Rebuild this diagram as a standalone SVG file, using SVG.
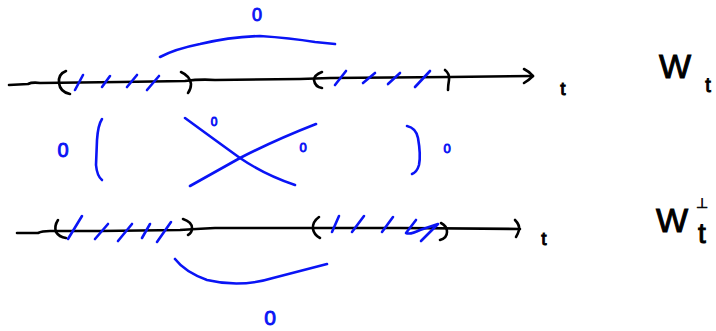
<svg xmlns="http://www.w3.org/2000/svg" width="716" height="331" viewBox="0 0 716 331">
<style>
.k{fill:none;stroke:#000;stroke-width:2.6;stroke-linecap:round;stroke-linejoin:round}
.b{fill:none;stroke:#0a14f5;stroke-width:2.6;stroke-linecap:round;stroke-linejoin:round}
.tb{fill:#0a14f5;stroke:#0a14f5;stroke-width:0.9;font-family:"Liberation Sans",Arial,sans-serif;text-anchor:middle}
.tk{fill:#000;stroke:#000;stroke-width:1;font-family:"Liberation Sans",Arial,sans-serif;text-anchor:middle}
</style>
<rect width="716" height="331" fill="#fff"/>
<g id="top-axis">
<path class="k" d="M 9 85 L 28 84 Q 32 82 40 83 L 120 82 L 185 81 Q 200 79 215 80 L 300 79 L 330 78 L 450 77 L 533 76"/>
<path class="k" d="M 524 69 Q 530 72 533 76 Q 529 80 524 83"/>
<path class="k" d="M 66 71 Q 58 74 59 83 Q 60 92 70 94"/>
<path class="k" d="M 181 72 Q 190 76 191 84 Q 191 89 188 93"/>
<path class="k" d="M 322 72 Q 314 75 314 80 Q 315 87 322 88"/>
<path class="k" d="M 445 70 Q 450 74 449 80 Q 448 86 448 90"/>
</g>
<g id="top-ticks">
<path class="b" d="M 75 90 L 83 75 M 102 87 L 110 76 M 127 87 L 137 75 M 147 90 L 159 76"/>
<path class="b" d="M 335 85 L 346 71 M 363 83 L 375 73 M 388 84 L 400 73 M 415 87 L 430 71"/>
</g>
<g id="bottom-axis">
<path class="k" d="M 17 233 L 38 233 Q 42 231 50 231 L 100 231 L 180 230 Q 195 229 215 228 L 400 228 L 520 229"/>
<path class="k" d="M 515 220 Q 520 225 519 230 Q 518 234 516 237"/>
<path class="k" d="M 58 220 Q 54 226 56 232 Q 59 237 66 238"/>
<path class="k" d="M 183 219 Q 192 222 192 228 Q 192 233 188 235"/>
<path class="k" d="M 319 217 Q 312 222 313 229 Q 314 235 320 238"/>
<path class="k" d="M 441 223 Q 447 226 447 232 Q 447 238 440 240"/>
</g>
<g id="bottom-ticks">
<path class="b" d="M 68 239 L 82 216 M 95 239 L 108 224 M 118 241 L 132 224 M 142 238 L 150 224 M 157 242 L 171 222"/>
<path class="b" d="M 332 232 L 339 216 M 352 232 L 364 216 M 382 232 L 393 217"/>
<path class="b" d="M 416 220 L 406 233 Q 410 235 420 230 L 438 224 L 421 241"/>
</g>
<g id="connectors">
<path class="b" d="M 160 57 Q 175 49 200 44 Q 230 37 260 36 Q 290 38 315 42 L 335 44"/>
<path class="b" d="M 175 259 Q 185 272 207 280 Q 240 288 273 278 Q 300 271 327 264"/>
<path class="b" d="M 102 119 Q 98 125 97 140 L 96 165 Q 97 176 102 180"/>
<path class="b" d="M 407 126 Q 416 128 418 138 Q 421 155 419 165 Q 417 172 412 174"/>
<path class="b" d="M 185 118 Q 215 140 240 158 Q 265 175 295 185"/>
<path class="b" d="M 316 124 Q 275 140 240 158 Q 215 172 190 186"/>
</g>
<g id="labels">
<text class="tb" x="257" y="21" font-size="18">0</text>
<text class="tb" x="214" y="126" font-size="12">0</text>
<text class="tb" x="303" y="152" font-size="13">0</text>
<text class="tb" x="63" y="157" font-size="20">0</text>
<text class="tb" x="447" y="153" font-size="13">0</text>
<text class="tb" x="270" y="325" font-size="21">0</text>
<text class="tk" x="563" y="95" font-size="19">t</text>
<text class="tk" x="544" y="245" font-size="19">t</text>
<text class="tk" x="675" y="78" font-size="34">W</text>
<text class="tk" x="708" y="92" font-size="20">t</text>
<text class="tk" x="672" y="232" font-size="34">W</text>
<text x="702" y="208" font-size="14" fill="#000" stroke="#000" stroke-width="0.6" text-anchor="middle" font-family="DejaVu Sans, sans-serif">⊥</text>
<text class="tk" x="702" y="243" font-size="28">t</text>
</g>
</svg>
